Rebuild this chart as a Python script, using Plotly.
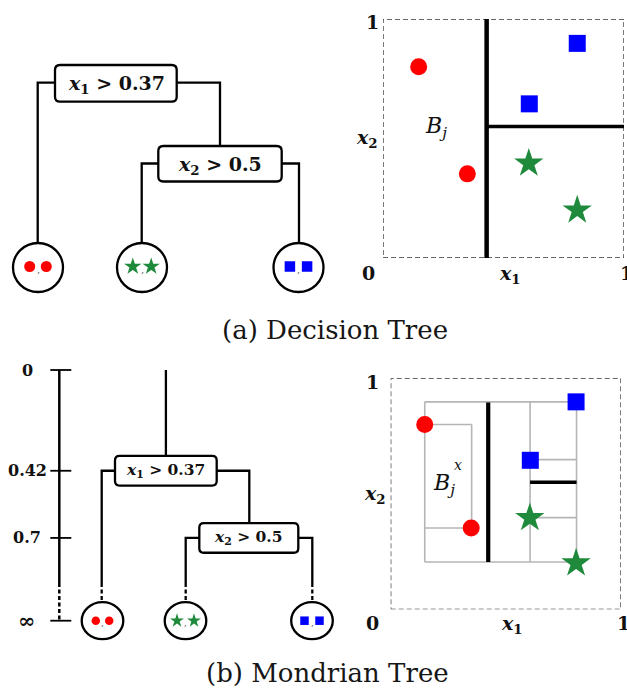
import plotly.graph_objects as go

W, H = 627, 691

# ---------------- data ----------------
red_x = [0.148, 0.350]
red_y = [0.800, 0.352]
blue_x = [0.806, 0.607]
blue_y = [0.898, 0.645]
green_x = [0.605, 0.806]
green_y = [0.396, 0.200]

# decision-tree splits as drawn in panel (a)
dt_split_x1 = 0.43
dt_split_x2 = 0.55
node_label_1 = "<b><i>x</i><sub>1</sub> &gt; 0.37</b>"
node_label_2 = "<b><i>x</i><sub>2</sub> &gt; 0.5</b>"

# Mondrian split times
split_times = [0.42, 0.70]
T_INF = 1.045
time_ticks = [0.0, 0.42, 0.70, T_INF]
time_tick_text = ["0", "0.42", "0.7", "∞"]
T_DASH = 0.888  # where the time axis becomes dashed

# Mondrian partition (gray) segments: x0, y0, x1, y1
gray_segments = [
    (0.148, 0.898, 0.808, 0.898),
    (0.148, 0.205, 0.808, 0.205),
    (0.148, 0.205, 0.148, 0.898),
    (0.808, 0.205, 0.808, 0.898),
    (0.148, 0.800, 0.352, 0.800),
    (0.352, 0.352, 0.352, 0.800),
    (0.148, 0.352, 0.352, 0.352),
    (0.606, 0.205, 0.606, 0.898),
    (0.606, 0.648, 0.808, 0.648),
    (0.606, 0.397, 0.808, 0.397),
]
# Mondrian splits (black)
black_segments = [
    (0.424, 0.205, 0.424, 0.895),
    (0.606, 0.550, 0.808, 0.550),
]

# ---------------- styles ----------------
RED = "#ff0000"
BLUE = "#0000ff"
GREEN = "#1f8a3c"
INK = "#111111"
SERIF = "DejaVu Serif"
TREE_W = 2.3

# Mondrian time axis geometry (pixels)
T0_PX, TINF_PX = 370.0, 620.7
PX_T = T_INF / (TINF_PX - T0_PX)  # time units per pixel
Y4_TOP_PX, Y4_BOT_PX = 330.0, 665.0
AXIS_X = 59.3

fig = go.Figure()

fig.update_layout(
    width=W, height=H, autosize=False,
    margin=dict(l=0, r=0, t=0, b=0, pad=0),
    paper_bgcolor="white", plot_bgcolor="rgba(0,0,0,0)",
    showlegend=False,
    xaxis=dict(domain=[0, 1], range=[0, W], visible=False, fixedrange=True),
    yaxis=dict(domain=[0, 1], range=[H, 0], visible=False, fixedrange=True),
    xaxis2=dict(domain=[383 / W, 624 / W], range=[0, 1], visible=False, anchor="y2"),
    yaxis2=dict(domain=[1 - 258 / H, 1 - 19 / H], range=[0, 1], visible=False, anchor="x2"),
    xaxis3=dict(domain=[390.7 / W, 620.7 / W], range=[0, 1], visible=False, anchor="y3"),
    yaxis3=dict(domain=[1 - 609.3 / H, 1 - 378.3 / H], range=[0, 1], visible=False, anchor="x3"),
    xaxis4=dict(domain=[0, 345 / W], range=[0, 345], visible=False, anchor="y4"),
    yaxis4=dict(domain=[1 - Y4_BOT_PX / H, 1 - Y4_TOP_PX / H],
                range=[(Y4_BOT_PX - T0_PX) * PX_T, (Y4_TOP_PX - T0_PX) * PX_T],
                anchor="x4", visible=False),
)

shapes = []
annotations = []


def rrect_path(x0, y0, x1, y1, rx, ry):
    return (f"M {x0+rx},{y0} L {x1-rx},{y0} Q {x1},{y0} {x1},{y0+ry} "
            f"L {x1},{y1-ry} Q {x1},{y1} {x1-rx},{y1} L {x0+rx},{y1} "
            f"Q {x0},{y1} {x0},{y1-ry} L {x0},{y0+ry} Q {x0},{y0} {x0+rx},{y0} Z")


def polyline(xs, ys, xa, ya, width=TREE_W, dash="solid", color="black"):
    fig.add_trace(go.Scatter(x=xs, y=ys, mode="lines", xaxis=xa, yaxis=ya,
                             line=dict(color=color, width=width, dash=dash),
                             hoverinfo="skip", cliponaxis=False))


def leaf_icons(cx, cy, dx, xa, ya, symbol, color, size):
    fig.add_trace(go.Scatter(x=[cx - dx, cx + dx], y=[cy, cy], mode="markers",
                             xaxis=xa, yaxis=ya, cliponaxis=False, hoverinfo="skip",
                             marker=dict(symbol=symbol, color=color, size=size,
                                         line=dict(width=0))))


# ================= (a) Decision tree (pixel overlay) =================
polyline([37.7, 37.7, 55], [243, 82.7, 82.7], "x", "y")
polyline([176.7, 220, 220], [82.7, 82.7, 146], "x", "y")
polyline([141.7, 141.7, 158.3], [242.5, 163.5, 163.5], "x", "y")
polyline([281.7, 299, 299], [163.5, 163.5, 242.5], "x", "y")

for (x0, y0, x1, y1) in [(55, 65, 176.7, 101.7), (158.3, 146, 281.7, 181.5)]:
    shapes.append(dict(type="path", xref="x", yref="y", layer="below",
                       path=rrect_path(x0, y0, x1, y1, 5, 5),
                       line=dict(color="black", width=TREE_W), fillcolor="white"))
annotations.append(dict(x=116, y=84, xref="x", yref="y", text=node_label_1, showarrow=False,
                        font=dict(family=SERIF, size=19, color=INK)))
annotations.append(dict(x=220, y=165, xref="x", yref="y", text=node_label_2, showarrow=False,
                        font=dict(family=SERIF, size=19, color=INK)))

top_leaves = [(38, RED, "circle", 11, 8.3), (142, GREEN, "star", 13, 9.2), (298.5, BLUE, "square", 10.5, 8.6)]
for cx, col, sym, sz, dx in top_leaves:
    shapes.append(dict(type="circle", xref="x", yref="y", layer="below",
                       x0=cx - 25, x1=cx + 25, y0=267.5 - 24.5, y1=267.5 + 24.5,
                       line=dict(color="black", width=TREE_W), fillcolor="white"))
for cx, col, sym, sz, dx in top_leaves:
    leaf_icons(cx, 266.5, dx, "x", "y", sym, col, sz)
    annotations.append(dict(x=cx, y=269, xref="x", yref="y", text=",", showarrow=False,
                            font=dict(family=SERIF, size=10, color="#555")))

# ================= (a) scatter panel =================
shapes.append(dict(type="rect", xref="x2", yref="y2", x0=0, x1=1, y0=0, y1=1, layer="below",
                   line=dict(color="#333", width=1.3, dash="5px,3px")))
polyline([dt_split_x1, dt_split_x1], [0, 1], "x2", "y2", width=4.5)
polyline([dt_split_x1, 1], [dt_split_x2, dt_split_x2], "x2", "y2", width=3.5)


def scatter_points(xa, ya):
    fig.add_trace(go.Scatter(x=red_x, y=red_y, mode="markers", xaxis=xa, yaxis=ya,
                             cliponaxis=False, hoverinfo="skip",
                             marker=dict(symbol="circle", color=RED, size=17, line=dict(width=0))))
    fig.add_trace(go.Scatter(x=blue_x, y=blue_y, mode="markers", xaxis=xa, yaxis=ya,
                             cliponaxis=False, hoverinfo="skip",
                             marker=dict(symbol="square", color=BLUE, size=17, line=dict(width=0))))
    fig.add_trace(go.Scatter(x=green_x, y=green_y, mode="markers", xaxis=xa, yaxis=ya,
                             cliponaxis=False, hoverinfo="skip",
                             marker=dict(symbol="star", color=GREEN, size=22, line=dict(width=0))))


scatter_points("x2", "y2")

lab_font = dict(family=SERIF, size=19, color=INK)
for (x, y, t) in [(372, 22, "<b>1</b>"), (368, 273, "<b>0</b>"), (626, 273, "<b>1</b>"),
                  (510, 274, "<b><i>x</i><sub>1</sub></b>"), (367, 138, "<b><i>x</i><sub>2</sub></b>")]:
    annotations.append(dict(x=x, y=y, xref="x", yref="y", text=t, showarrow=False, font=lab_font))
annotations.append(dict(x=423, y=127, xref="x", yref="y", xanchor="left",
                        text="<i>B</i><sub><i>j</i></sub>", showarrow=False,
                        font=dict(family=SERIF, size=22, color=INK)))

# ================= (b) Mondrian tree (x4 pixels, y4 time) =================
t1, t2 = split_times
bh = 14.8 * PX_T

# time axis line and tick marks (horizontal line markers crossing the axis)
polyline([AXIS_X, AXIS_X], [0, T_DASH], "x4", "y4", width=2.5)
polyline([AXIS_X, AXIS_X], [T_DASH, T_INF], "x4", "y4", width=2.5, dash="4px,2.5px")
fig.add_trace(go.Scatter(x=[AXIS_X + 1.5] * len(time_ticks), y=time_ticks, mode="markers",
                         xaxis="x4", yaxis="y4", cliponaxis=False, hoverinfo="skip",
                         marker=dict(symbol="line-ew", size=15, color="black",
                                     line=dict(color="black", width=1.8))))
for tv, tt in zip(time_ticks, time_tick_text):
    annotations.append(dict(x=27, y=tv, xref="x", yref="y4", text=f"<b>{tt}</b>", showarrow=False,
                            font=dict(family=SERIF, size=16 if tt != "∞" else 21, color=INK)))

leaf_top = T_INF - 18.5 * PX_T
polyline([165.9, 165.9], [0, t1 - bh], "x4", "y4")
polyline([115, 101.7, 101.7], [t1, t1, T_DASH], "x4", "y4")
polyline([216.7, 249.3, 249.3], [t1, t1, t2 - bh], "x4", "y4")
polyline([199.3, 185.7, 185.7], [t2, t2, T_DASH], "x4", "y4")
polyline([298.3, 312.3, 312.3], [t2, t2, T_DASH], "x4", "y4")
for lx in [101.7, 185.7, 312.3]:
    polyline([lx, lx], [T_DASH, leaf_top], "x4", "y4", dash="4px,2.5px")

for (x0, x1, tc) in [(115, 216.7, t1), (199.3, 298.3, t2)]:
    shapes.append(dict(type="path", xref="x4", yref="y4", layer="below",
                       path=rrect_path(x0, tc - bh, x1, tc + bh, 4.5, 4.5 * PX_T),
                       line=dict(color="black", width=TREE_W), fillcolor="white"))
annotations.append(dict(x=165.9, y=t1, xref="x4", yref="y4", text=node_label_1, showarrow=False,
                        font=dict(family=SERIF, size=15.5, color=INK)))
annotations.append(dict(x=248.8, y=t2, xref="x4", yref="y4", text=node_label_2, showarrow=False,
                        font=dict(family=SERIF, size=15.5, color=INK)))

bot_leaves = [(102.5, RED, "circle", 8.5, 6.7), (185.5, GREEN, "star", 10.5, 8.5), (312, BLUE, "square", 8.5, 7.5)]
for cx, col, sym, sz, dx in bot_leaves:
    shapes.append(dict(type="circle", xref="x4", yref="y4", layer="below",
                       x0=cx - 20.8, x1=cx + 20.8,
                       y0=T_INF - 18.5 * PX_T, y1=T_INF + 18.5 * PX_T,
                       line=dict(color="black", width=TREE_W), fillcolor="white"))
for cx, col, sym, sz, dx in bot_leaves:
    leaf_icons(cx, T_INF, dx, "x4", "y4", sym, col, sz)
    annotations.append(dict(x=cx, y=T_INF + 2.5 * PX_T, xref="x4", yref="y4", text=",", showarrow=False,
                            font=dict(family=SERIF, size=9, color="#555")))

# ================= (b) scatter panel =================
shapes.append(dict(type="rect", xref="x3", yref="y3", x0=0, x1=1, y0=0, y1=1, layer="below",
                   line=dict(color="#333", width=1.3, dash="5px,3px")))
gx, gy = [], []
for (a, b, c, d) in gray_segments:
    gx += [a, c, None]
    gy += [b, d, None]
polyline(gx, gy, "x3", "y3", width=1.6, color="#b5b5b5")
for (a, b, c, d) in black_segments:
    polyline([a, c], [b, d], "x3", "y3", width=4.2 if a == c else 3.4)
scatter_points("x3", "y3")

for (x, y, t) in [(372.7, 382, "<b>1</b>"), (372.7, 623, "<b>0</b>"), (623, 623, "<b>1</b>"),
                  (511.7, 624, "<b><i>x</i><sub>1</sub></b>"), (375, 494, "<b><i>x</i><sub>2</sub></b>")]:
    annotations.append(dict(x=x, y=y, xref="x", yref="y", text=t, showarrow=False, font=lab_font))
annotations.append(dict(x=431, y=484, xref="x", yref="y", xanchor="left",
                        text="<i>B</i><sub><i>j</i></sub>", showarrow=False,
                        font=dict(family=SERIF, size=22, color=INK)))
annotations.append(dict(x=458, y=465, xref="x", yref="y", text="<i>x</i>", showarrow=False,
                        font=dict(family=SERIF, size=14, color=INK)))

# ================= captions =================
annotations.append(dict(x=220, y=330, xref="x", yref="y", xanchor="left", text="(a) Decision Tree",
                        showarrow=False, font=dict(family=SERIF, size=26, color="#161616")))
annotations.append(dict(x=204, y=673, xref="x", yref="y", xanchor="left", text="(b) Mondrian Tree",
                        showarrow=False, font=dict(family=SERIF, size=26, color="#161616")))

fig.update_layout(shapes=shapes, annotations=annotations)
fig.write_html("out.html",
               config={"displayModeBar": False, "staticPlot": True},
               post_script="document.body.style.margin='0';document.body.style.padding='0';")
